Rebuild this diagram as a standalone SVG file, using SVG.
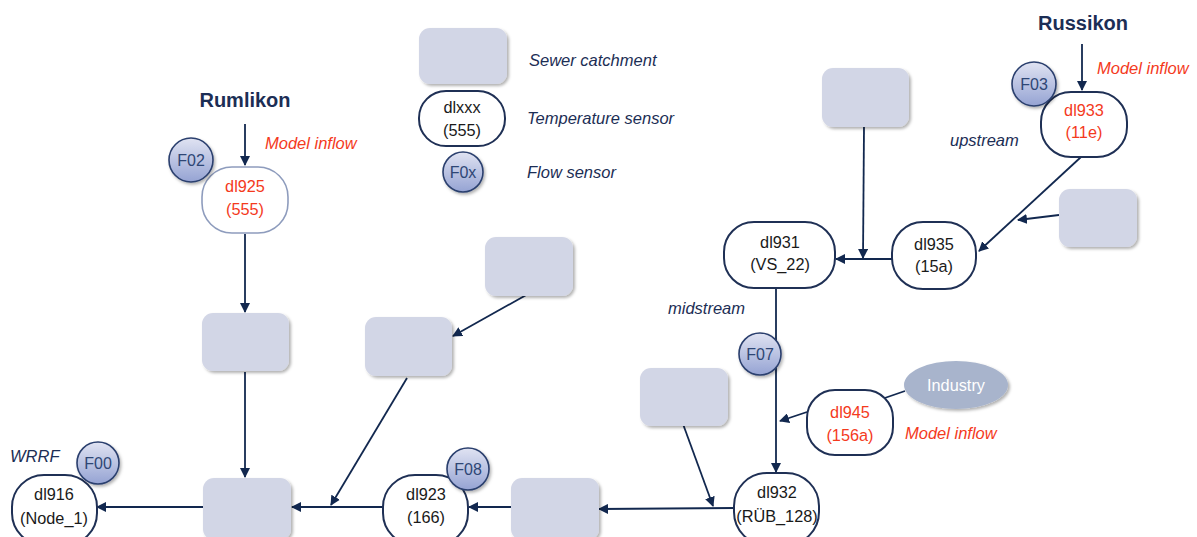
<svg xmlns="http://www.w3.org/2000/svg" width="1197" height="537" viewBox="0 0 1197 537">
<defs>
<style>
.box{fill:#d2d6e6;filter:url(#sh)}
.tnode{fill:#fff;stroke:#1f3055;stroke-width:2}
.tnode2{fill:#fff;stroke:#8e9cbd;stroke-width:1.6}
.fc{fill:url(#fg);stroke:#2b3f6e;stroke-width:1.6;filter:url(#sh2)}
.t{font-family:"Liberation Sans",Arial,sans-serif;font-size:16.3px;fill:#1a1a1a;text-anchor:middle}
.red{fill:#f43a1d}
.ft{font-family:"Liberation Sans",Arial,sans-serif;font-size:16px;fill:#2e4675;text-anchor:middle}
.lab{font-family:"Liberation Sans",Arial,sans-serif;font-size:16.5px;font-style:italic;fill:#1c2e55}
.mi{font-family:"Liberation Sans",Arial,sans-serif;font-size:16.5px;font-style:italic;fill:#f43a1d}
.title{font-family:"Liberation Sans",Arial,sans-serif;font-size:20px;font-weight:bold;fill:#1c2e55;text-anchor:middle}
.c{stroke:#12284f;stroke-width:1.8;fill:none}
.ca{stroke:#12284f;stroke-width:1.8;fill:none;marker-end:url(#ah)}
</style>
<marker id="ah" markerWidth="10" markerHeight="10" refX="9" refY="5" orient="auto" markerUnits="userSpaceOnUse" viewBox="0 0 10 10">
<path d="M0,0 L10,5 L0,10 z" fill="#12284f"/>
</marker>
<linearGradient id="fg" x1="0" y1="0" x2="0" y2="1">
<stop offset="0" stop-color="#e0e3f2"/>
<stop offset="1" stop-color="#95a3d3"/>
</linearGradient>
<filter id="sh" x="-20%" y="-20%" width="140%" height="140%">
<feDropShadow dx="2" dy="2" stdDeviation="1.5" flood-color="#000" flood-opacity="0.3"/>
</filter>
<filter id="sh2" x="-30%" y="-30%" width="160%" height="160%">
<feDropShadow dx="1.5" dy="2" stdDeviation="1.5" flood-color="#000" flood-opacity="0.3"/>
</filter>
</defs>
<rect width="1197" height="537" fill="#fff"/>

<g id="connectors">
<line class="ca" x1="245" y1="124" x2="245" y2="165"/>
<line class="ca" x1="245" y1="234" x2="245" y2="312"/>
<line class="ca" x1="245" y1="372" x2="245" y2="477"/>
<line class="ca" x1="203" y1="507" x2="97" y2="507"/>
<line class="ca" x1="383" y1="507" x2="292" y2="507"/>
<line class="ca" x1="407" y1="378" x2="331" y2="505"/>
<line class="ca" x1="528" y1="294" x2="453" y2="336"/>
<line class="ca" x1="511" y1="507" x2="469" y2="507"/>
<line class="ca" x1="735" y1="508" x2="599" y2="509"/>
<line class="ca" x1="683" y1="424" x2="713" y2="506"/>
<line class="ca" x1="776" y1="288" x2="776" y2="472"/>
<line class="c" x1="905" y1="391" x2="876" y2="401"/>
<line class="ca" x1="807" y1="412" x2="780" y2="421"/>
<line class="ca" x1="892" y1="259" x2="836" y2="259"/>
<line class="ca" x1="864" y1="127" x2="863" y2="258"/>
<line class="ca" x1="1081" y1="157" x2="979" y2="251"/>
<line class="ca" x1="1059" y1="215" x2="1018" y2="220"/>
<line class="ca" x1="1082" y1="44" x2="1082" y2="90"/>
</g>

<g id="legend">
<rect class="box" x="419" y="28" width="88" height="56" rx="11"/>
<rect class="tnode" x="419" y="91" width="86" height="55" rx="27"/>
<text class="t" x="462" y="113">dlxxx</text>
<text class="t" x="462" y="136">(555)</text>
<circle class="fc" cx="463" cy="172" r="20"/>
<text class="ft" x="463" y="178">F0x</text>
<text class="lab" x="529" y="66">Sewer catchment</text>
<text class="lab" x="527" y="124">Temperature sensor</text>
<text class="lab" x="527" y="178">Flow sensor</text>
</g>

<g id="rumlikon"><text class="title" x="245" y="107">Rumlikon</text></g>
<g id="russikon"><text class="title" x="1083" y="30">Russikon</text></g>
<text class="mi" x="265" y="149">Model inflow</text>
<text class="mi" x="1097" y="74">Model inflow</text>
<text class="mi" x="905" y="439">Model inflow</text>
<text class="lab" x="950" y="146">upstream</text>
<text class="lab" x="668" y="314">midstream</text>
<text class="lab" x="10" y="462">WRRF</text>

<g id="dl925">
<rect class="tnode2" x="202" y="167" width="86" height="66" rx="30"/>
<text class="t red" x="245" y="192">dl925</text>
<text class="t red" x="245" y="215">(555)</text>
</g>
<g id="F02"><circle class="fc" cx="191" cy="160" r="22"/><text class="ft red" x="191" y="166">F02</text></g>

<g id="c1"><rect class="box" x="202" y="313" width="87" height="58" rx="11"/></g>
<g id="c2"><rect class="box" x="203" y="478" width="88" height="62" rx="11"/></g>
<g id="c3"><rect class="box" x="365" y="317" width="87" height="59" rx="11"/></g>
<g id="c4"><rect class="box" x="485" y="237" width="88" height="59" rx="11"/></g>
<g id="c5"><rect class="box" x="511" y="478" width="88" height="62" rx="11"/></g>
<g id="c6"><rect class="box" x="640" y="368" width="88" height="58" rx="11"/></g>
<g id="c7"><rect class="box" x="822" y="68" width="87" height="59" rx="11"/></g>
<g id="c8"><rect class="box" x="1059" y="189" width="78" height="58" rx="11"/></g>

<g id="dl916">
<rect class="tnode" x="12" y="475" width="85" height="70" rx="32"/>
<text class="t" x="54" y="500">dl916</text>
<text class="t" x="54" y="524">(Node_1)</text>
</g>
<g id="F00"><circle class="fc" cx="98" cy="463" r="21"/><text class="ft" x="98" y="469">F00</text></g>

<g id="dl923">
<rect class="tnode" x="383" y="475" width="85" height="70" rx="32"/>
<text class="t" x="426" y="500">dl923</text>
<text class="t" x="426" y="523">(166)</text>
</g>
<g id="F08"><circle class="fc" cx="468" cy="469" r="21"/><text class="ft" x="468" y="475">F08</text></g>

<g id="dl932">
<rect class="tnode" x="734" y="473" width="85" height="72" rx="33"/>
<text class="t" x="777" y="498">dl932</text>
<text class="t" x="777" y="522">(RÜB_128)</text>
</g>

<g id="F07"><circle class="fc" cx="760" cy="354" r="21"/><text class="ft" x="760" y="360">F07</text></g>

<g id="dl945">
<rect class="tnode" x="807" y="390" width="86" height="65" rx="28"/>
<text class="t red" x="850" y="418">dl945</text>
<text class="t red" x="850" y="441">(156a)</text>
</g>
<g id="industry">
<ellipse cx="956" cy="385" rx="52" ry="24" fill="#a8b4cc" filter="url(#sh)"/>
<text class="t" x="956" y="391" style="fill:#fff">Industry</text>
</g>

<g id="dl931">
<rect class="tnode" x="724" y="222" width="111" height="66" rx="30"/>
<text class="t" x="780" y="248">dl931</text>
<text class="t" x="780" y="270">(VS_22)</text>
</g>
<g id="dl935">
<rect class="tnode" x="892" y="222" width="84" height="67" rx="31"/>
<text class="t" x="934" y="250">dl935</text>
<text class="t" x="934" y="272">(15a)</text>
</g>
<g id="dl933">
<rect class="tnode" x="1041" y="92" width="86" height="65" rx="30"/>
<text class="t red" x="1084" y="116">dl933</text>
<text class="t red" x="1084" y="138">(11e)</text>
</g>
<g id="F03"><circle class="fc" cx="1034" cy="84" r="22"/><text class="ft red" x="1034" y="90">F03</text></g>
</svg>
